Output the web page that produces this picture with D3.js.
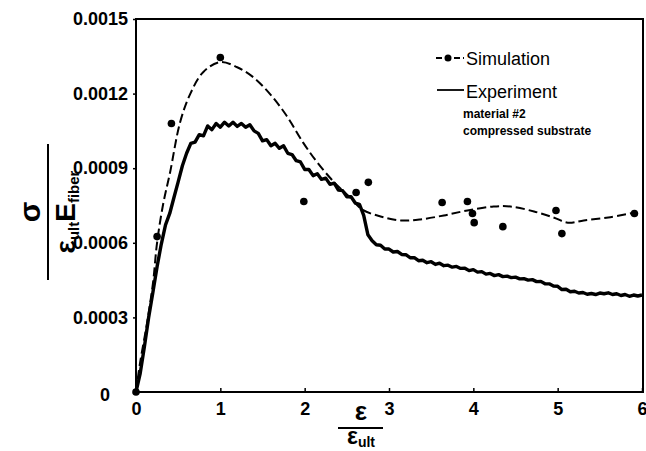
<!DOCTYPE html>
<html><head><meta charset="utf-8">
<script src="https://cdn.jsdelivr.net/npm/d3@7"></script>
<style>body{margin:0;background:#fff}svg{display:block}</style>
</head><body><svg id="chart" width="646" height="451"></svg>
<script>
// Axis ticks
const xTicks = [0, 1, 2, 3, 4, 5, 6];
const yTicks = [0, 0.0003, 0.0006, 0.0009, 0.0012, 0.0015];
const yTickLabels = ["0", "0.0003", "0.0006", "0.0009", "0.0012", "0.0015"];

// Simulation: computed points
const simPointX = [0, 0.25, 0.42, 1.0, 1.99, 2.61, 2.755, 3.63, 3.93, 3.99, 4.01, 4.35, 4.98, 5.05, 5.91];
const simPointY = [0, 0.000625, 0.00108, 0.001345, 0.000766, 0.000802, 0.000843, 0.000762, 0.000766, 0.000718, 0.000681, 0.000665, 0.00073, 0.000637, 0.000718];

// Simulation: fitted trend curve
const simCurveX = [0, 0.048, 0.131, 0.202, 0.25, 0.321, 0.404, 0.523, 0.642, 0.796, 0.998, 1.2, 1.39, 1.59, 1.79, 1.98, 2.15, 2.34, 2.54, 2.68, 2.9, 3.14, 3.37, 3.65, 3.93, 4.24, 4.44, 4.72, 4.95, 5.12, 5.31, 5.6, 5.92];
const simCurveY = [0, 0.000117, 0.000278, 0.00044, 0.000601, 0.000754, 0.000883, 0.001085, 0.001198, 0.001286, 0.001327, 0.001306, 0.001266, 0.001198, 0.001109, 0.001004, 0.000923, 0.000847, 0.000782, 0.000734, 0.000706, 0.00069, 0.000694, 0.00071, 0.00073, 0.000746, 0.000746, 0.000726, 0.000702, 0.000681, 0.00069, 0.000702, 0.000722];

// Experiment: measured response sampled every 0.05 strain units
const expStep = 0.05;
const expY = [
  0, 0.000075, 0.000183, 0.0003, 0.0004, 0.000504, 0.000595, 0.000672, 0.000718, 0.000782,
  0.000845, 0.00091, 0.00096, 0.001, 0.001005, 0.001035, 0.00103, 0.00107, 0.001055, 0.00108,
  0.001065, 0.001085, 0.00107, 0.001085, 0.001068, 0.00108, 0.001065, 0.001075, 0.00105, 0.00104,
  0.00101, 0.001015, 0.00099, 0.001, 0.00098, 0.00099, 0.00096, 0.000955, 0.00093, 0.000925,
  0.000895, 0.000895, 0.00087, 0.000878, 0.000855, 0.00086, 0.000835, 0.00084, 0.000812, 0.00081,
  0.000785, 0.000785, 0.00076, 0.000755, 0.00071, 0.000632, 0.000608, 0.000592, 0.00059, 0.000575,
  0.000575, 0.000563, 0.000565, 0.000553, 0.000552, 0.00054, 0.00054, 0.000528, 0.00053, 0.00052,
  0.000524, 0.000513, 0.000518, 0.000508, 0.00051, 0.000502, 0.000505, 0.000497, 0.000498, 0.000488,
  0.000492, 0.000482, 0.000484, 0.000474, 0.000477, 0.000468, 0.000472, 0.000464, 0.000466, 0.00046,
  0.000462, 0.000455, 0.000456, 0.00045, 0.000452, 0.000444, 0.000445, 0.000435, 0.000435, 0.000426,
  0.000425, 0.000412, 0.000413, 0.000403, 0.000405, 0.000398, 0.0004, 0.000393, 0.000396, 0.000392,
  0.000398, 0.000395, 0.000399, 0.000392, 0.000395, 0.000388, 0.000392, 0.000385, 0.00039, 0.000386,
  0.00039
];

const svg = d3.select("#chart");
const font = "'Liberation Sans', Arial, Helvetica, sans-serif";

const x = d3.scaleLinear().domain([0, 6]).range([136, 642]);
const y = d3.scaleLinear().domain([0, 0.0015]).range([392, 19]);

// Plot frame
svg.append("rect")
  .attr("x", x(0)).attr("y", y(0.0015))
  .attr("width", x(6) - x(0) + 1).attr("height", y(0) - y(0.0015))
  .attr("fill", "none").attr("stroke", "#000").attr("stroke-width", 2);

// X axis (ticks point inward)
const xAxis = svg.append("g")
  .attr("transform", `translate(0,${y(0)})`)
  .call(d3.axisBottom(x).tickValues(xTicks).tickSizeInner(-4).tickSizeOuter(0).tickPadding(10).tickFormat(d3.format("d")));
xAxis.select(".domain").remove();
xAxis.selectAll("line").attr("stroke", "#000").attr("stroke-width", 1.5);
xAxis.selectAll("text").attr("font-family", font).attr("font-weight", "bold").attr("font-size", 18).attr("fill", "#000");

// Y axis (short outward ticks)
const yAxis = svg.append("g")
  .attr("transform", `translate(${x(0)},0)`)
  .call(d3.axisLeft(y).tickValues(yTicks).tickSizeInner(3).tickSizeOuter(0).tickPadding(5)
    .tickFormat((d, i) => yTickLabels[i]));
yAxis.select(".domain").remove();
yAxis.selectAll("line").attr("stroke", "#000").attr("stroke-width", 1.5);
yAxis.selectAll("text").attr("font-family", font).attr("font-weight", "bold").attr("font-size", 18).attr("fill", "#000");
yAxis.selectAll(".tick").filter(d => d === 0).select("text").attr("x", -26).attr("dy", "0.45em");

// Experiment curve
const expData = expY.map((v, i) => [i * expStep, v]);
svg.append("path")
  .datum(expData)
  .attr("fill", "none").attr("stroke", "#000").attr("stroke-width", 3.4)
  .attr("stroke-linejoin", "round")
  .attr("d", d3.line().x(d => x(d[0])).y(d => y(d[1])));

// Simulation trend curve (dashed)
const simCurve = simCurveX.map((v, i) => [v, simCurveY[i]]);
svg.append("path")
  .datum(simCurve)
  .attr("fill", "none").attr("stroke", "#000").attr("stroke-width", 2)
  .attr("stroke-dasharray", "9,4")
  .attr("d", d3.line().curve(d3.curveCatmullRom.alpha(0.5)).x(d => x(d[0])).y(d => y(d[1])));

// Simulation points
svg.append("g").selectAll("circle")
  .data(simPointX.map((v, i) => [v, simPointY[i]]))
  .join("circle")
  .attr("cx", d => x(d[0])).attr("cy", d => y(d[1])).attr("r", 3.8).attr("fill", "#000");

// Legend
const leg = svg.append("g");
leg.append("line").attr("x1", 436).attr("x2", 464).attr("y1", 58).attr("y2", 58)
  .attr("stroke", "#000").attr("stroke-width", 1.8).attr("stroke-dasharray", "6,3");
leg.append("circle").attr("cx", 448).attr("cy", 58).attr("r", 3.5).attr("fill", "#000");
leg.append("text").attr("x", 466).attr("y", 65).text("Simulation")
  .attr("font-family", font).attr("font-size", 18).attr("fill", "#000");
leg.append("line").attr("x1", 437).attr("x2", 464).attr("y1", 90).attr("y2", 90)
  .attr("stroke", "#000").attr("stroke-width", 1.8);
leg.append("text").attr("x", 466).attr("y", 98).text("Experiment")
  .attr("font-family", font).attr("font-size", 18).attr("fill", "#000");
leg.append("text").attr("x", 463).attr("y", 118).text("material #2")
  .attr("font-family", font).attr("font-weight", "bold").attr("font-size", 12).attr("fill", "#000");
leg.append("text").attr("x", 463).attr("y", 135).text("compressed substrate")
  .attr("font-family", font).attr("font-weight", "bold").attr("font-size", 12).attr("fill", "#000");

// X axis title: strain over ultimate strain
const xt = svg.append("g").attr("transform", "translate(361,0)");
xt.append("text").attr("x", 0).attr("y", 420).attr("text-anchor", "middle")
  .attr("font-family", font).attr("font-weight", "bold").attr("font-size", 26).text("ε");
xt.append("line").attr("x1", -23).attr("x2", 22).attr("y1", 428).attr("y2", 428)
  .attr("stroke", "#000").attr("stroke-width", 2);
const xd = xt.append("text").attr("x", 0).attr("y", 444).attr("text-anchor", "middle")
  .attr("font-family", font).attr("font-weight", "bold").attr("font-size", 23);
xd.append("tspan").text("ε");
xd.append("tspan").attr("font-size", 14).attr("dy", 3).text("ult");

// Y axis title: stress normalised by ultimate strain times fibre modulus
const yt = svg.append("g").attr("transform", "translate(48,212) rotate(-90)");
yt.append("text").attr("x", 0).attr("y", -8).attr("text-anchor", "middle")
  .attr("font-family", font).attr("font-weight", "bold").attr("font-size", 30).text("σ");
yt.append("line").attr("x1", -68).attr("x2", 68).attr("y1", 0).attr("y2", 0)
  .attr("stroke", "#000").attr("stroke-width", 2);
const yd = yt.append("text").attr("x", 0).attr("y", 27).attr("text-anchor", "middle")
  .attr("font-family", font).attr("font-weight", "bold").attr("font-size", 28);
yd.append("tspan").text("ε");
yd.append("tspan").attr("font-size", 15).attr("dy", 4).text("ult");
yd.append("tspan").attr("dy", -4).text("E");
yd.append("tspan").attr("font-size", 15).attr("dy", 4).text("fiber");
</script>
</body></html>
